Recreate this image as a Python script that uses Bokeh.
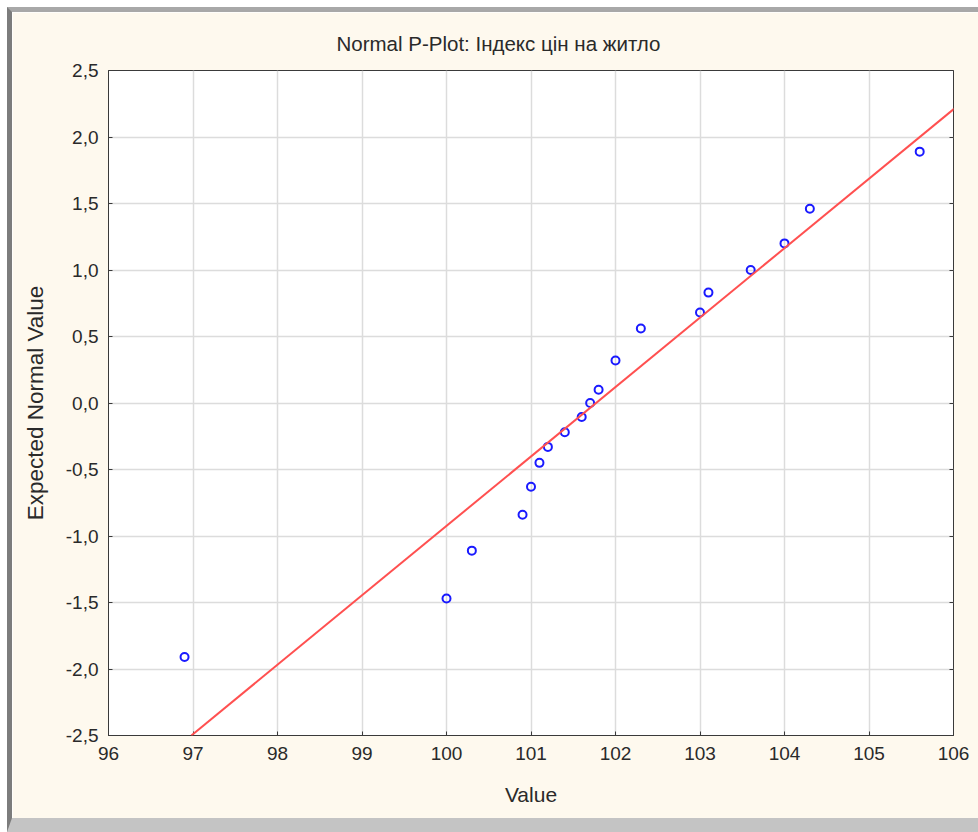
from bokeh.plotting import figure
from bokeh.models import FixedTicker, CustomJSTickFormatter, Slope, LinearAxis
from bokeh.embed import file_html
from bokeh.resources import INLINE

# Data
values = [96.9, 100.0, 100.3, 100.9, 101.0, 101.1, 101.2, 101.4, 101.6, 101.7,
          101.8, 102.0, 102.3, 103.0, 103.1, 103.6, 104.0, 104.3, 105.6]
expected = [-1.91, -1.47, -1.11, -0.84, -0.63, -0.45, -0.33, -0.22, -0.105, 0.0,
            0.10, 0.32, 0.56, 0.68, 0.83, 1.00, 1.20, 1.46, 1.89]
fit_slope = 0.522
fit_center = 101.77
x_ticks = [96, 97, 98, 99, 100, 101, 102, 103, 104, 105, 106]
y_ticks = [-2.5, -2.0, -1.5, -1.0, -0.5, 0.0, 0.5, 1.0, 1.5, 2.0, 2.5]
title_text = "Normal P-Plot: Індекс цін на житло"
x_label = "Value"
y_label = "Expected Normal Value"

FONT = "Liberation Sans"
CREAM = "#FEF9EE"
TXT = "#2a2a2a"

p = figure(width=971, height=825, x_range=(96, 106), y_range=(-2.5, 2.5),
           output_backend="svg", toolbar_location=None,
           min_border_left=96, min_border_right=30, min_border_top=58, min_border_bottom=102)
p.styles = {"margin-left": "7px", "margin-top": "7px",
            "border-left": "5px solid #7c7c7c", "border-top": "5px solid #a8a8a8",
            "border-bottom": "14px solid #c4c4c4"}
p.background_fill_color = "white"
p.border_fill_color = CREAM
p.outline_line_color = "#3a3a3a"
p.outline_line_width = 1

p.title.text = title_text
p.title.align = "left"
p.title.offset = 228
p.title.text_font = FONT
p.title.text_font_size = "20.5px"
p.title.text_font_style = "normal"
p.title.text_color = TXT
p.title.standoff = 32

fmt = CustomJSTickFormatter(code="return tick.toFixed(1).replace('.', ',');")
blank = CustomJSTickFormatter(code="return '';")

for ax in (p.xaxis[0], p.yaxis[0]):
    ax.major_label_text_font = FONT
    ax.major_label_text_font_size = "19px"
    ax.major_label_text_color = TXT
    ax.axis_label_text_font = FONT
    ax.axis_label_text_font_style = "normal"
    ax.axis_label_text_color = TXT
    ax.axis_line_color = "#3a3a3a"
    ax.major_tick_line_color = "#3a3a3a"
    ax.major_tick_in = 4
    ax.major_tick_out = 0
    ax.minor_tick_line_color = None

p.xaxis.ticker = FixedTicker(ticks=x_ticks)
p.yaxis.ticker = FixedTicker(ticks=y_ticks)
p.yaxis.formatter = fmt
p.xaxis.axis_label = x_label
p.yaxis.axis_label = y_label
p.xaxis.axis_label_text_font_size = "21px"
p.yaxis.axis_label_text_font_size = "22.5px"
p.xaxis.major_label_standoff = 11
p.yaxis.major_label_standoff = 10
p.xaxis.axis_label_standoff = 20
p.yaxis.axis_label_standoff = 15

right = LinearAxis(ticker=FixedTicker(ticks=y_ticks), formatter=blank,
                   axis_line_color=None, major_tick_line_color="#3a3a3a",
                   major_tick_in=4, major_tick_out=0, minor_tick_line_color=None,
                   major_label_standoff=0)
p.add_layout(right, "right")

p.xgrid.ticker = FixedTicker(ticks=x_ticks)
p.ygrid.ticker = FixedTicker(ticks=y_ticks)
p.grid.grid_line_color = "#dcdcdc"
p.grid.grid_line_width = 1.5

fit = Slope(gradient=fit_slope, y_intercept=-fit_slope * fit_center,
            line_color="#FF5050", line_width=2)
p.add_layout(fit)

p.scatter(values, expected, marker="circle", size=8, fill_color=None,
          line_color="#1a1aff", line_width=2)

html = file_html(p, INLINE)
open("out.html", "w").write(html)
